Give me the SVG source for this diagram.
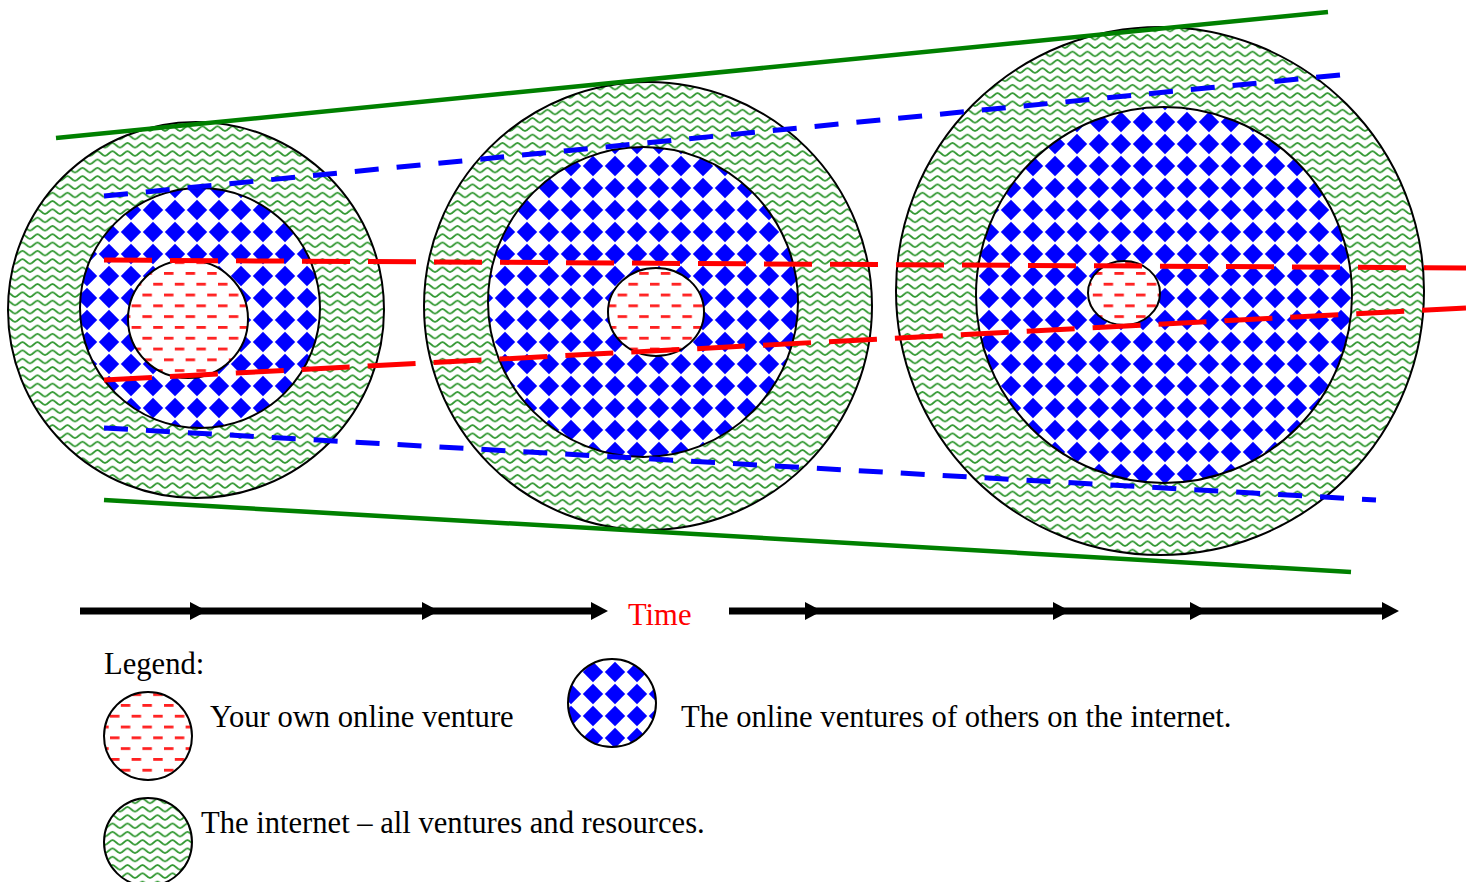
<svg xmlns="http://www.w3.org/2000/svg" width="1466" height="882" viewBox="0 0 1466 882">
<style>
.ring{stroke:#000;stroke-width:2}
.g{fill:url(#waves)}
.b{fill:url(#diamonds)}
.r{fill:url(#dashes)}
.lbl{font-family:"Liberation Serif","Times New Roman",serif;font-size:30.6px;fill:#000}
.green{stroke:#008000;stroke-width:4.5;fill:none}
.blue{stroke:#0000ff;stroke-width:5;fill:none;stroke-dasharray:24 18}
.red{stroke:#ff0000;stroke-width:5;fill:none;stroke-dasharray:48 18}
.arrow{stroke:#000;stroke-width:7;fill:none;marker-mid:url(#ah);marker-end:url(#ah)}
</style>
<defs>
<pattern id="waves" patternUnits="userSpaceOnUse" width="15" height="8.3">
<rect width="15" height="8.3" fill="#fff"/>
<path d="M-7.5,1.8 C-5,1.8 -2.5,6.5 0,6.5 C2.5,6.5 5,1.8 7.5,1.8 C10,1.8 12.5,6.5 15,6.5 C17.5,6.5 20,1.8 22.5,1.8" fill="none" stroke="#339933" stroke-width="1.9"/>
</pattern>
<pattern id="diamonds" patternUnits="userSpaceOnUse" x="10" y="1" width="22" height="22">
<rect width="22" height="22" fill="#fff"/>
<polygon points="11,0.8 21.2,11 11,21.2 0.8,11" fill="#0000ff"/>
</pattern>
<pattern id="dashes" patternUnits="userSpaceOnUse" x="2" y="2" width="21.6" height="21.6">
<rect width="21.6" height="21.6" fill="#fff"/>
<rect x="0" y="0" width="9.5" height="2.8" fill="#ff2020"/>
<rect x="10.8" y="10.8" width="9.5" height="2.8" fill="#ff2020"/>
</pattern>
<marker id="ah" markerUnits="userSpaceOnUse" markerWidth="17" markerHeight="18" refX="0" refY="9" orient="auto" overflow="visible">
<path d="M0,0 L17,9 L0,18 Z" fill="#000"/>
</marker>
</defs>

<g id="stage1">
<circle class="ring g" cx="196" cy="310" r="188"/>
<circle class="ring b" cx="200" cy="308" r="120"/>
<ellipse class="ring r" cx="188" cy="319" rx="60" ry="59"/>
</g>
<g id="stage2">
<circle class="ring g" cx="648" cy="306" r="224"/>
<circle class="ring b" cx="643" cy="302" r="155"/>
<ellipse class="ring r" cx="656" cy="312" rx="48" ry="44"/>
</g>
<g id="stage3">
<circle class="ring g" cx="1160" cy="291" r="264"/>
<circle class="ring b" cx="1164" cy="295" r="188"/>
<ellipse class="ring r" cx="1124" cy="293" rx="36" ry="32"/>
</g>

<g id="connectors">
<line class="green" x1="56" y1="138" x2="1328" y2="12"/>
<line class="green" x1="104" y1="500" x2="1351" y2="572"/>
<line class="blue" x1="104" y1="196" x2="1340" y2="75"/>
<line class="blue" x1="104" y1="428" x2="1376" y2="500"/>
<line class="red" x1="104" y1="260" x2="1466" y2="268"/>
<line class="red" x1="104" y1="380" x2="1466" y2="308"/>
</g>

<g id="timeline">
<polyline class="arrow" points="80,611 190,611 422,611 591,611"/>
<polyline class="arrow" points="729,611 805,611 1053,611 1190,611 1382,611"/>
<text x="628" y="625" class="lbl" style="fill:#ff0000">Time</text>
</g>

<g id="legend">
<text x="104" y="674" class="lbl">Legend:</text>
<g id="legend-own">
<ellipse class="ring r" cx="148" cy="736" rx="44" ry="44"/>
<text x="210" y="727" class="lbl">Your own online venture</text>
</g>
<g id="legend-others">
<ellipse class="ring b" cx="612" cy="703" rx="44" ry="44"/>
<text x="681" y="727" class="lbl">The online ventures of others on the internet.</text>
</g>
<g id="legend-internet">
<ellipse class="ring g" cx="148" cy="842" rx="44" ry="44"/>
<text x="201" y="833" class="lbl">The internet – all ventures and resources.</text>
</g>
</g>
</svg>
